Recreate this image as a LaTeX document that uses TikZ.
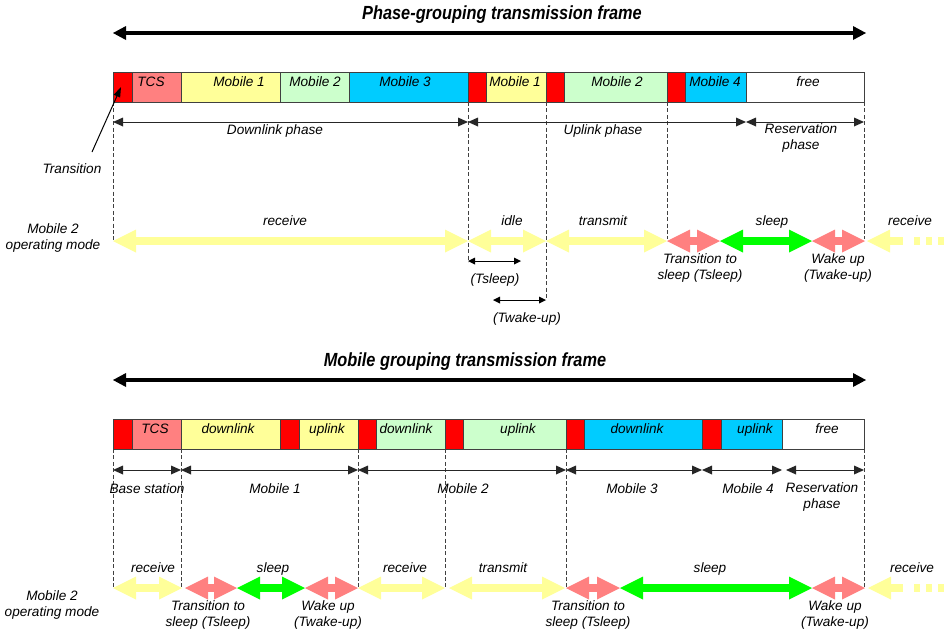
\documentclass[tikz,border=0pt]{standalone}
\usepackage{fontspec}
\setmainfont{Liberation Sans}
\usepackage{tikz}
\usetikzlibrary{arrows.meta}
\definecolor{slotred}{HTML}{FF0000}
\definecolor{tcspink}{HTML}{FF8080}
\definecolor{mob1}{HTML}{FFFF99}
\definecolor{mob2}{HTML}{CCFFCC}
\definecolor{mob3}{HTML}{00CCFF}
\definecolor{modeyel}{HTML}{FFFF99}
\definecolor{modepink}{HTML}{FF8080}
\definecolor{modegreen}{HTML}{00FF00}

\begin{document}
\begin{tikzpicture}[x=0.5pt,y=-0.5pt,
  font=\fontsize{6.8}{7.7}\selectfont\itshape,
  slot/.style={draw=black!75,line width=0.5pt},
  guide/.style={draw=black!75,line width=0.45pt,dash pattern=on 2pt off 1.2pt},
  span/.style={draw=black!85,line width=0.5pt,{Triangle[length=5pt,width=4.5pt,line width=0pt]}-{Triangle[length=5pt,width=4.5pt,line width=0pt]}},
  smallspan/.style={draw=black,line width=0.5pt,{Triangle[length=3.5pt,width=3.5pt,line width=0pt]}-{Triangle[length=3.5pt,width=3.5pt,line width=0pt]}},
  bigspan/.style={draw=black,line width=2pt,{Triangle[length=6.5pt,width=7pt,line width=0pt]}-{Triangle[length=6.5pt,width=7pt,line width=0pt]}},
  mode/.style={line width=3.6pt,{Triangle[length=11.5pt,width=11.5pt,line width=0pt]}-{Triangle[length=11.5pt,width=11.5pt,line width=0pt]}},
  lbl/.style={anchor=base,align=center,inner sep=0pt},
  headline/.style={anchor=base,inner sep=0pt,font=\fontsize{9.5}{11}\selectfont\bfseries\itshape}]
\fill[white] (0,0) rectangle (944,634);
\useasboundingbox (0,0) rectangle (944,634);

% ---- phase grouping ----
\node[headline] (ptitle) at (502,19) {\scalebox{0.86}[1]{Phase-grouping transmission frame}};
\coordinate (pl) at (113,33);
\coordinate (pr) at (866,33);
\draw[bigspan] (pl) -- (pr);

\foreach \a/\b/\c/\x/\t in {113/132/slotred/122/{},132/181/tcspink/151/TCS,
  181/280/mob1/239/Mobile 1,280/349/mob2/315/Mobile 2,349/468/mob3/405/Mobile 3,
  468/486/slotred/477/{},486/546/mob1/515/Mobile 1,546/564/slotred/555/{},
  564/667/mob2/617/Mobile 2,667/685/slotred/676/{},685/746/mob3/715/Mobile 4,
  746/864/white/808/free}{
  \filldraw[slot,fill=\c] (\a,72) rectangle (\b,102);
  \node[lbl] (ps-\a) at (\x,86) {\t};
}

\foreach \x/\y in {113/241,468/262,546/300,667/239,864/239}
  \draw[guide] (\x,102) -- (\x,\y);

\foreach \a/\b in {113/468,468/746,746/864}
  \draw[span] (\a,122) -- (\b,122);
\node[lbl] (dlp) at (275,134) {Downlink phase};
\node[lbl] (ulp) at (603,134) {Uplink phase};
\node[lbl] (rsp) at (801,149) {Reservation\\phase};

\node[lbl] (trans) at (72,173) {Transition};
\coordinate (transtail) at (92,152);
\coordinate (transtip) at (121,87);
\draw[line width=0.5pt,-{Triangle[length=5pt,width=3.5pt,line width=0pt]}] (transtail) -- (transtip);

\node[lbl] (pmode) at (53,249) {Mobile 2\\operating mode};
\foreach \a/\b/\c in {113/468/modeyel,468/546/modeyel,546/667/modeyel,
  667/720/modepink,720/812/modegreen,812/865/modepink}
  \draw[mode,draw=\c] (\a,241) -- (\b,241);
\draw[modeyel,line width=3.6pt,{Triangle[length=11.5pt,width=11.5pt,line width=0pt]}-] (867,241) -- (903,241);
\draw[modeyel,line width=3.6pt,dash pattern=on 3pt off 3pt] (914,241) -- (944,241);

\node[lbl] (prx) at (285,225) {receive};
\node[lbl] (pidle) at (512,225) {idle};
\node[lbl] (ptx) at (603,225) {transmit};
\node[lbl] (psl) at (772,225) {sleep};
\node[lbl] (prx2) at (910,225) {receive};
\node[lbl] (ptts) at (700,279) {Transition to\\sleep (Tsleep)};
\node[lbl] (pwu) at (838,279) {Wake up\\(Twake-up)};

\draw[smallspan] (468,261) -- (521,261);
\node[lbl] (tsl) at (495,283) {(Tsleep)};
\draw[smallspan] (493,300) -- (546,300);
\node[lbl] (twu) at (527,322) {(Twake-up)};

% ---- mobile grouping ----
\node[headline] (mtitle) at (465,366) {\scalebox{0.86}[1]{Mobile grouping transmission frame}};
\coordinate (ml) at (113,380);
\coordinate (mr) at (866,380);
\draw[bigspan] (ml) -- (mr);

\foreach \a/\b/\c/\x/\t in {113/132/slotred/122/{},132/181/tcspink/155/TCS,
  181/280/mob1/228/downlink,280/299/slotred/290/{},299/358/mob1/327/uplink,
  358/376/slotred/367/{},376/445/mob2/406/downlink,445/463/slotred/454/{},
  463/566/mob2/518/uplink,566/584/slotred/575/{},584/702/mob3/637/downlink,
  702/721/slotred/711/{},721/782/mob3/755/uplink,782/864/white/827/free}{
  \filldraw[slot,fill=\c] (\a,419) rectangle (\b,449);
  \node[lbl] (ms-\a) at (\x,433) {\t};
}

\foreach \x in {113,181,358,445,566,864}
  \draw[guide] (\x,449) -- (\x,587);

\foreach \a/\b in {113/181,181/358,358/566,566/702,702/782,786/864}
  \draw[span] (\a,470) -- (\b,470);
\node[lbl] (bs) at (147,493) {Base station};
\node[lbl] (m1) at (275,493) {Mobile 1};
\node[lbl] (m2) at (463,493) {Mobile 2};
\node[lbl] (m3) at (632,493) {Mobile 3};
\node[lbl] (m4) at (748,493) {Mobile 4};
\node[lbl] (mrs) at (822,508) {Reservation\\phase};

\node[lbl] (mmode) at (52,616) {Mobile 2\\operating mode};
\foreach \a/\b/\c in {113/182/modeyel,185/237/modepink,237/305/modegreen,
  305/358/modepink,358/445/modeyel,449/565/modeyel,566/620/modepink,
  620/812/modegreen,812/865/modepink}
  \draw[mode,draw=\c] (\a,588) -- (\b,588);
\draw[modeyel,line width=3.6pt,{Triangle[length=11.5pt,width=11.5pt,line width=0pt]}-] (868,588) -- (903,588);
\draw[modeyel,line width=3.6pt,dash pattern=on 3pt off 3pt] (914,588) -- (944,588);

\node[lbl] (mrx1) at (153,572) {receive};
\node[lbl] (msl1) at (273,572) {sleep};
\node[lbl] (mrx2) at (405,572) {receive};
\node[lbl] (mtx) at (503,572) {transmit};
\node[lbl] (msl2) at (710,572) {sleep};
\node[lbl] (mrx3) at (912,572) {receive};
\node[lbl] (mtts1) at (208,626) {Transition to\\sleep (Tsleep)};
\node[lbl] (mwu1) at (328,626) {Wake up\\(Twake-up)};
\node[lbl] (mtts2) at (588,626) {Transition to\\sleep (Tsleep)};
\node[lbl] (mwu2) at (835,626) {Wake up\\(Twake-up)};
\end{tikzpicture}
\end{document}
